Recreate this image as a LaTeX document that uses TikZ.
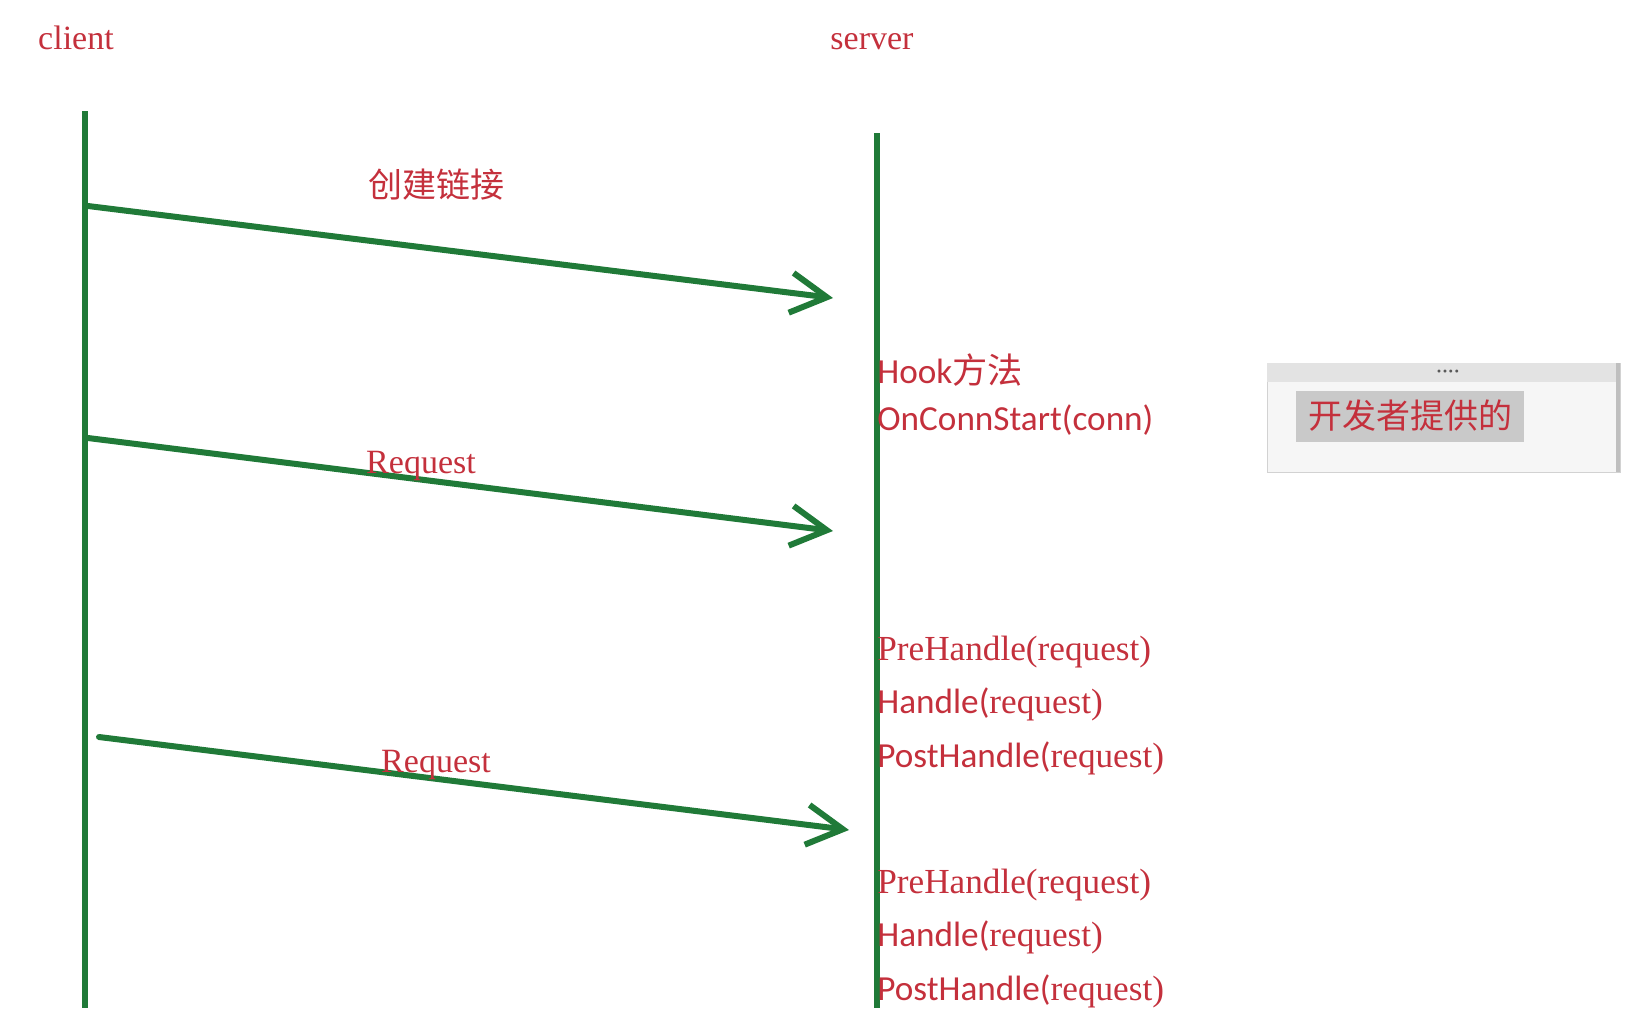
\documentclass[tikz,border=0pt]{standalone}
\usepackage{fontspec}
\setmainfont{Liberation Serif}
\setsansfont{Carlito}
\newfontfamily\cjk{Noto Sans CJK SC}
\usetikzlibrary{positioning,arrows.meta}
\definecolor{lifegreen}{RGB}{32,122,56}
\definecolor{notered}{RGB}{196,48,60}

\begin{document}
\begin{tikzpicture}[
    x=0.5pt, y=-0.5pt,
    >={Straight Barb[length=18pt,width=20pt]},
    life/.style={draw=lifegreen, line width=3.3pt},
    msg/.style={draw=lifegreen, line width=3pt, ->, line cap=round},
    redtxt/.style={text=notered, font=\fontsize{17}{20}\selectfont},
    hook/.style={redtxt, font=\fontsize{17.6}{20}\selectfont, anchor=west, inner sep=0pt}
]
    \useasboundingbox (0,0) rectangle (1628,1008);

    % Titel
    \node[redtxt, anchor=base] (client) at (76,49) {client};
    \node[redtxt, anchor=base] (server) at (872,49) {server};

    % Lebenslinien
    \coordinate (ctop) at (85,111);
    \coordinate (cbot) at (85,1008);
    \coordinate (stop) at (877,133);
    \coordinate (sbot) at (877,1008);
    \draw[life] (ctop) -- (cbot);
    \draw[life] (stop) -- (sbot);

    % Nachrichten
    \coordinate (conn-a) at (88,206);
    \coordinate (conn-b) at (833,298);
    \coordinate (req1-a) at (88,438);
    \coordinate (req1-b) at (833,531);
    \coordinate (req2-a) at (99,737);
    \coordinate (req2-b) at (849,830);
    \draw[msg] (conn-a) -- (conn-b);
    \draw[msg] (req1-a) -- (req1-b);
    \draw[msg] (req2-a) -- (req2-b);
    \node[redtxt] (conntxt) at (436,185) {\cjk 创建链接};
    \node[redtxt] (req1txt) at (421,466) {Request};
    \node[redtxt] (req2txt) at (436,765) {Request};

    % Hooks am Server
    \node[hook] (hook) at (877,370) {\sffamily Hook\cjk 方法};
    \node[hook] (start) at (877,420) {\sffamily OnConnStart(conn)};
    \node[hook] (pre1) at (877,652) {PreHandle(request)};
    \node[hook] (handle1) at (877,704) {\sffamily Handle(\rmfamily request)};
    \node[hook] (post1) at (877,758) {\sffamily PostHandle(\rmfamily request)};
    \node[hook] (pre2) at (877,885) {PreHandle(request)};
    \node[hook] (handle2) at (877,937) {\sffamily Handle(\rmfamily request)};
    \node[hook] (post2) at (877,991) {\sffamily PostHandle(\rmfamily request)};

    % Kommentar
    \draw[draw=gray!35, fill=gray!7] (1267,363) rectangle (1620,472);
    \fill[gray!22] (1267,363) rectangle (1620,382);
    \draw[gray!50, line width=2pt] (1618,363) -- (1618,472);
    \node[text=gray!70!black, font=\bfseries\small] (dots) at (1448,374) {····};
    \node[redtxt, fill=gray!42, minimum width=114pt, minimum height=25.5pt] (devnote) at (1410,416) {\cjk 开发者提供的};
\end{tikzpicture}
\end{document}
